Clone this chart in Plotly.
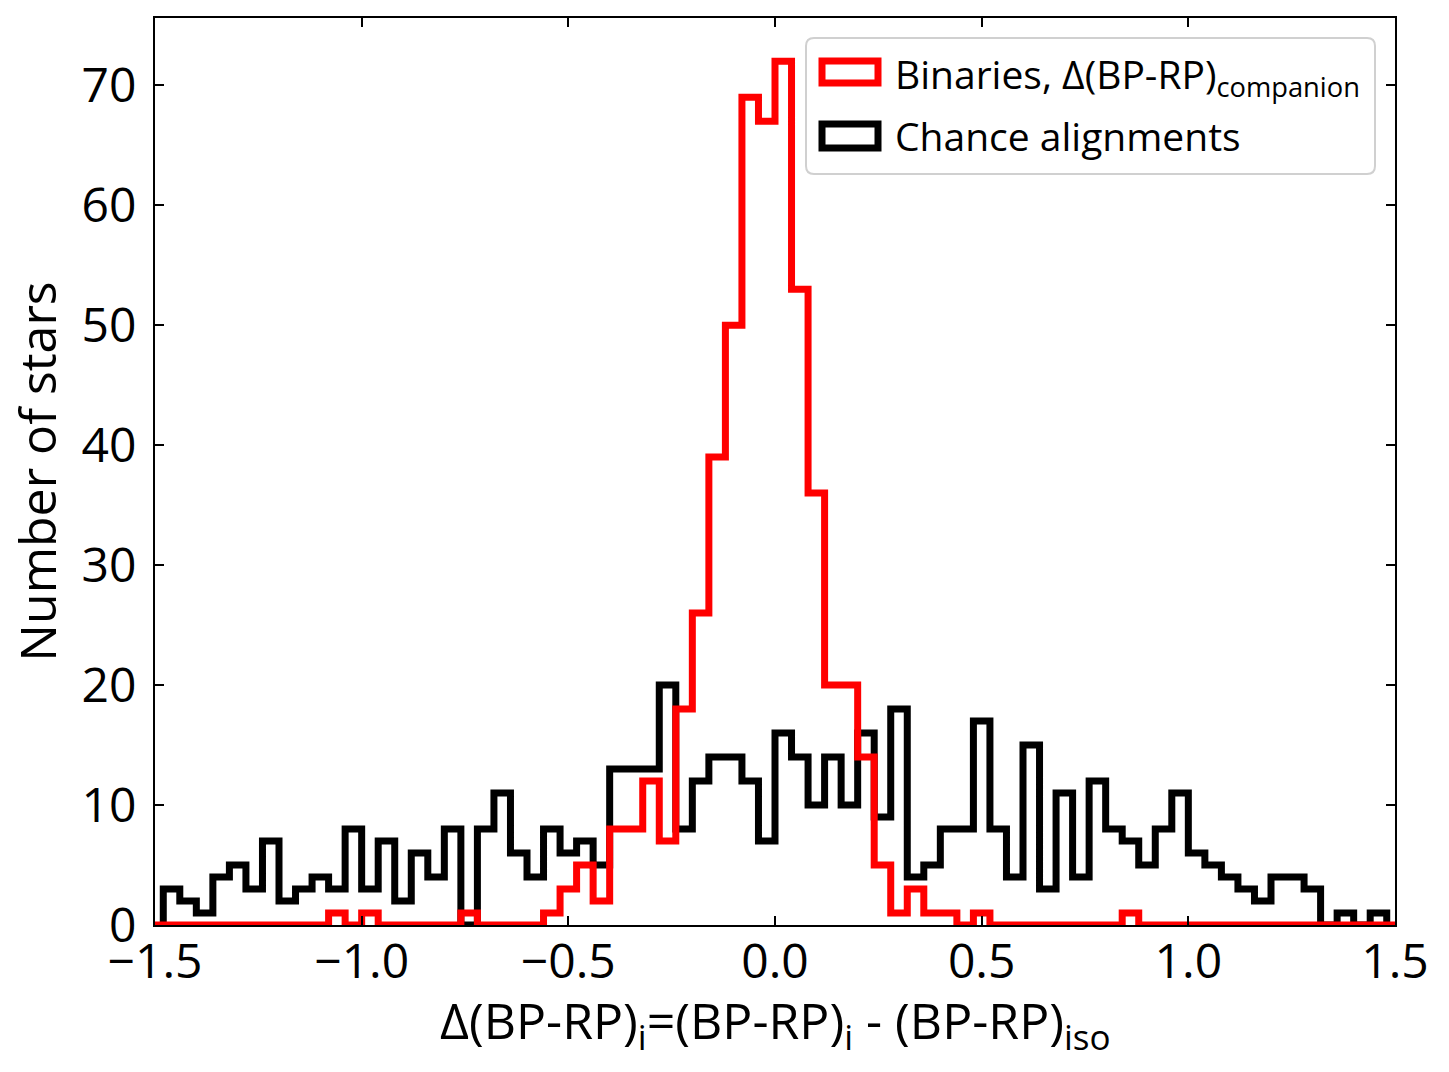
import numpy as np
import plotly.graph_objects as go

# ---------------- data ----------------
bin_width = 0.04
chance_start = -1.48
chance_counts = [3, 2, 1, 4, 5, 3, 7, 2, 3, 4, 3, 8, 3, 7, 2, 6, 4, 8, 0, 8,
                 11, 6, 4, 8, 6, 7, 5, 13, 13, 13, 20, 8, 12, 14, 14, 12, 7, 16, 14, 10,
                 14, 10, 16, 9, 18, 4, 5, 8, 8, 17, 8, 4, 15, 3, 11, 4, 12, 8, 7, 5,
                 8, 11, 6, 5, 4, 3, 2, 4, 4, 3, 0, 1, 0, 1]

binary_start = -1.52
binary_counts = [0,
                 0, 0, 0, 0, 0, 0, 0, 0, 0, 0, 1, 0, 1, 0, 0, 0, 0, 0, 1, 0,
                 0, 0, 0, 1, 3, 5, 2, 8, 8, 12, 7, 18, 26, 39, 50, 69, 67, 72, 53,
                 36, 20, 20, 14, 5, 1, 3, 1, 1, 0, 1, 0, 0, 0, 0, 0, 0, 0, 0, 1,
                 0, 0, 0, 0, 0, 0, 0, 0, 0, 0, 0, 0, 0, 0, 0,
                 0]

x_ticks = [-1.5, -1.0, -0.5, 0.0, 0.5, 1.0, 1.5]
x_tick_labels = ["\u22121.5", "\u22121.0", "\u22120.5", "0.0", "0.5", "1.0", "1.5"]
y_ticks = [0, 10, 20, 30, 40, 50, 60, 70]

label_binaries = "Binaries, \u0394(BP-RP)<sub>companion</sub>"
label_chance = "Chance alignments"
x_title = "\u0394(BP-RP)<sub>i</sub>=(BP-RP)<sub>i</sub> - (BP-RP)<sub>iso</sub>"
y_title = "Number of stars"


def step_xy(start, counts):
    n = len(counts)
    edges = np.round(start + bin_width * np.arange(n + 1), 4)
    xs = [edges[0]] + list(edges)
    ys = [0] + list(counts) + [0]
    return xs, ys


FONT = "Open Sans"
LW = 7

fig = go.Figure()
cx, cy = step_xy(chance_start, chance_counts)
bx, by = step_xy(binary_start, binary_counts)
fig.add_trace(go.Scatter(x=cx, y=cy, mode="lines", line=dict(color="black", width=LW, shape="hv"),
                         name=label_chance, showlegend=False, hoverinfo="skip"))
fig.add_trace(go.Scatter(x=bx, y=by, mode="lines", line=dict(color="#ff0000", width=LW, shape="hv"),
                         name=label_binaries, showlegend=False, hoverinfo="skip"))

# ---- plot area geometry (px) for legend placement ----
W, H = 1449, 1072
L, R, T, B = 155, 1395, 18, 925
pw, ph = R - L, B - T


def px(x):
    return (x - L) / pw


def py(y):
    return (B - y) / ph


# legend box with rounded corners
bx0, bx1, by0, by1 = px(806), px(1375), py(174), py(38)
rx, ry = 8 / pw, 8 / ph
path = (f"M{bx0+rx},{by1} L{bx1-rx},{by1} Q{bx1},{by1} {bx1},{by1-ry} "
        f"L{bx1},{by0+ry} Q{bx1},{by0} {bx1-rx},{by0} L{bx0+rx},{by0} "
        f"Q{bx0},{by0} {bx0},{by0+ry} L{bx0},{by1-ry} Q{bx0},{by1} {bx0+rx},{by1} Z")
shapes = [dict(type="path", xref="paper", yref="paper", path=path,
               line=dict(color="#d0d0d0", width=2), fillcolor="rgba(255,255,255,0.8)", layer="above"),
          dict(type="rect", xref="paper", yref="paper", x0=px(822), x1=px(878), y0=py(83), y1=py(61),
               line=dict(color="#ff0000", width=LW), fillcolor="rgba(0,0,0,0)", layer="above"),
          dict(type="rect", xref="paper", yref="paper", x0=px(822), x1=px(878), y0=py(148), y1=py(124),
               line=dict(color="black", width=LW), fillcolor="rgba(0,0,0,0)", layer="above")]

annotations = [dict(xref="paper", yref="paper", x=px(893), y=py(76), xanchor="left", yanchor="middle",
                    text=label_binaries, showarrow=False, font=dict(family=FONT, size=39, color="black")),
               dict(xref="paper", yref="paper", x=px(893), y=py(136), xanchor="left", yanchor="middle",
                    text=label_chance, showarrow=False, font=dict(family=FONT, size=39, color="black")),
               # x-axis title
               dict(xref="paper", yref="paper", x=0.5, y=py(984), xanchor="center", yanchor="top",
                    text=x_title, showarrow=False, font=dict(family=FONT, size=50, color="black"))]

axis_common = dict(showline=True, linecolor="black", linewidth=2, mirror="ticks",
                   ticks="inside", ticklen=9, tickwidth=2, tickcolor="black",
                   showgrid=False, zeroline=False,
                   tickfont=dict(family=FONT, size=48, color="black"))

fig.update_layout(
    width=W, height=H,
    margin=dict(l=L, r=W - R, t=T, b=H - B),
    plot_bgcolor="white", paper_bgcolor="white",
    showlegend=False,
    shapes=shapes, annotations=annotations,
    xaxis=dict(range=[-1.5, 1.5], tickvals=x_ticks, ticktext=x_tick_labels,
               ticklabelstandoff=-7, **axis_common),
    yaxis=dict(range=[0, 75.6], tickvals=y_ticks,
               title=dict(text=y_title, font=dict(family=FONT, size=50, color="black"), standoff=9),
               ticklabelstandoff=7, **axis_common),
)

fig.write_html("out.html", config={"displayModeBar": False},
               post_script="document.body.style.margin='0';document.body.style.padding='0';")
